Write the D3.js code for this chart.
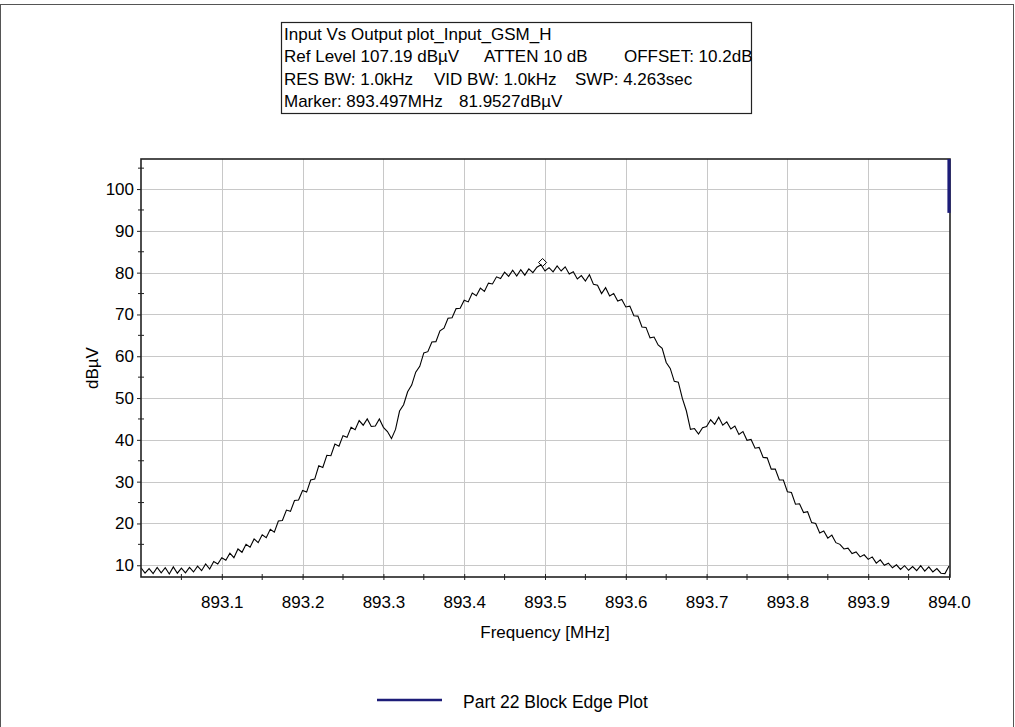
<!DOCTYPE html>
<html>
<head>
<meta charset="utf-8">
<script src="https://cdn.jsdelivr.net/npm/d3@7"></script>
<style>
	body { margin: 0; background: #fff; }
	text { font-family: "Liberation Sans", Arial, sans-serif; fill: #000; white-space: pre; }
</style>
</head>
<body>
<svg id="chart" width="1015" height="727"></svg>
<script>
// sweep settings (from the header box)
const startFreq = 893.0, stopFreq = 894.0, sweepStep = 0.005;
const refLevel = 107.19, bottomLevel = 7.19;

// measured trace, dBuV, one value per sweep step (893.000 ... 894.000)
const traceLevel = [
	9.4, 8.1, 9.2, 8.0, 9.5, 8.2, 9.4, 7.9, 9.6, 8.1, 9.3, 8.2, 9.5, 8.4, 9.8, 8.7, 10.3, 9.1, 10.9, 10.3,
	11.8, 11.2, 12.9, 11.8, 13.9, 13.1, 15.0, 14.3, 16.3, 15.4, 17.3, 16.6, 18.6, 17.9, 20.6, 20.7, 23.2, 22.9, 25.5, 25.6,
	27.9, 27.5, 30.4, 30.6, 33.8, 33.4, 36.3, 36.2, 39.0, 38.5, 41.0, 40.6, 43.0, 42.4, 44.6, 43.5, 45.0, 43.2, 43.3, 45.0,
	43.0, 42.0, 40.3, 42.5, 46.9, 48.4, 51.5, 53.1, 56.2, 57.6, 60.8, 61.1, 63.4, 63.5, 66.1, 66.7, 69.1, 69.2, 71.4, 71.5,
	73.4, 73.0, 75.1, 74.5, 76.3, 75.5, 77.5, 77.3, 79.0, 78.6, 80.1, 79.1, 80.6, 79.2, 80.7, 79.4, 80.9, 80.0, 81.3, 81.9,
	80.4, 81.2, 80.2, 81.6, 80.4, 81.4, 79.7, 80.2, 78.5, 79.3, 78.0, 79.5, 77.2, 77.0, 75.0, 76.4, 74.4, 75.0, 73.2, 73.6,
	71.8, 72.0, 69.7, 69.6, 67.0, 66.9, 64.4, 64.6, 62.7, 61.9, 58.5, 57.1, 54.0, 53.8, 49.9, 46.9, 42.5, 42.7, 41.4, 42.9,
	43.2, 44.8, 43.7, 45.4, 43.5, 44.3, 42.6, 43.3, 41.3, 42.0, 39.9, 40.1, 38.0, 38.2, 35.8, 35.7, 33.0, 33.0, 30.4, 30.4,
	27.6, 27.4, 24.6, 24.7, 22.6, 22.8, 20.2, 20.0, 17.7, 18.2, 16.5, 17.2, 15.4, 15.0, 13.9, 14.1, 12.8, 13.2, 12.0, 12.5,
	11.4, 12.0, 10.5, 11.3, 10.0, 10.5, 9.4, 10.1, 9.0, 9.9, 8.8, 9.7, 8.7, 9.9, 8.6, 9.6, 8.4, 9.2, 8.1, 8.0,
	9.8
];

// block edge limit line (Part 22)
const limitFreq = [894.0, 894.0];
const limitLevel = [107.19, 94.3];

const markerFreq = 893.497, markerLevel = 81.9527;

const xTicks = [893.1, 893.2, 893.3, 893.4, 893.5, 893.6, 893.7, 893.8, 893.9, 894.0];
const xMinorTicks = [893.05, 893.15, 893.25, 893.35, 893.45, 893.55, 893.65, 893.75, 893.85, 893.95];
const yTicks = [10, 20, 30, 40, 50, 60, 70, 80, 90, 100];
const yMinorTicks = [15, 25, 35, 45, 55, 65, 75, 85, 95, 105];

const infoLines = [
	[["Input Vs Output plot_Input_GSM_H", 284]],
	[["Ref Level 107.19 dBµV", 284], ["ATTEN 10 dB", 484], ["OFFSET: 10.2dB", 624]],
	[["RES BW: 1.0kHz", 284], ["VID BW: 1.0kHz", 434], ["SWP: 4.263sec", 575]],
	[["Marker: 893.497MHz", 284], ["81.9527dBµV", 459]]
];
const legendLabel = "Part 22 Block Edge Plot";

let svg = d3.select("#chart");

//outer frame of the window
svg.append("rect")
	.attr("x", 0.5).attr("y", 4.5)
	.attr("width", 1013).attr("height", 740)
	.style("fill", "none")
	.style("stroke", "#555")
	.style("stroke-width", 1);

let x = d3.scaleLinear()
	.domain([startFreq, stopFreq])
	.range([141, 949]);
let y = d3.scaleLinear()
	.domain([bottomLevel, refLevel])
	.range([577, 159]);

//grid
let grid = svg.append("g");
grid.selectAll(".vgrid")
	.data(xTicks.slice(0, -1))
	.enter()
	.append("line")
	.attr("x1", d => Math.round(x(d)) + 0.5).attr("x2", d => Math.round(x(d)) + 0.5)
	.attr("y1", 159).attr("y2", 577)
	.style("stroke", "#c8c8c8");
grid.selectAll(".hgrid")
	.data(yTicks)
	.enter()
	.append("line")
	.attr("x1", 141).attr("x2", 950)
	.attr("y1", d => Math.round(y(d)) + 0.5).attr("y2", d => Math.round(y(d)) + 0.5)
	.style("stroke", "#c8c8c8");

//trace
let freqs = d3.range(traceLevel.length).map(i => startFreq + i * sweepStep);
let line = d3.line()
	.x((d, i) => x(freqs[i]))
	.y(d => y(d));
svg.append("path")
	.datum(traceLevel)
	.attr("d", line)
	.style("fill", "none")
	.style("stroke", "#000")
	.style("stroke-width", 1.1);

//marker diamond
let mx = x(markerFreq), my = y(markerLevel) - 2;
svg.append("path")
	.attr("d", `M${mx},${my - 4}L${mx + 4},${my}L${mx},${my + 4}L${mx - 4},${my}Z`)
	.style("fill", "none")
	.style("stroke", "#000")
	.style("stroke-width", 1);

//plot frame
svg.append("rect")
	.attr("x", 141).attr("y", 159)
	.attr("width", 809).attr("height", 418)
	.style("fill", "none")
	.style("stroke", "#222")
	.style("stroke-width", 1.6);

//limit line
svg.append("path")
	.datum(limitLevel)
	.attr("d", d3.line().x((d, i) => x(limitFreq[i])).y(d => y(d)))
	.style("fill", "none")
	.style("stroke", "#1c1c78")
	.style("stroke-width", 3.2);

//axes
let xAxis = d3.axisBottom(x).tickValues(xTicks).tickSize(3).tickFormat(d3.format(".1f"));
let gx = svg.append("g").attr("transform", "translate(0,577)").call(xAxis);
gx.select(".domain").remove();
gx.selectAll(".tick line").attr("y1", -3).style("stroke", "#222");
gx.selectAll(".tick text").attr("y", 19).style("font-size", "17px").style("font-family", "Liberation Sans, Arial");
svg.append("g").selectAll("line")
	.data(xMinorTicks)
	.enter()
	.append("line")
	.attr("x1", d => x(d)).attr("x2", d => x(d))
	.attr("y1", 574).attr("y2", 580)
	.style("stroke", "#222");

let yAxis = d3.axisLeft(y).tickValues(yTicks).tickSize(4);
let gy = svg.append("g").attr("transform", "translate(141,0)").call(yAxis);
gy.select(".domain").remove();
gy.selectAll(".tick line").style("stroke", "#222");
gy.selectAll(".tick text").attr("x", -7).style("font-size", "17px").style("font-family", "Liberation Sans, Arial");
svg.append("g").selectAll("line")
	.data(yMinorTicks)
	.enter()
	.append("line")
	.attr("x1", 138).attr("x2", 144)
	.attr("y1", d => y(d)).attr("y2", d => y(d))
	.style("stroke", "#222");

//axis titles
svg.append("text")
	.text("Frequency [MHz]")
	.attr("x", 545).attr("y", 638)
	.style("text-anchor", "middle")
	.style("font-size", "17px");
svg.append("text")
	.text("dBµV")
	.attr("transform", "translate(98,368) rotate(-90)")
	.style("text-anchor", "middle")
	.style("font-size", "17px");

//info box
svg.append("rect")
	.attr("x", 281.5).attr("y", 22.5)
	.attr("width", 470).attr("height", 91)
	.style("fill", "#fff")
	.style("stroke", "#222")
	.style("stroke-width", 1.2);
infoLines.forEach(function(parts, i){
	parts.forEach(function(p){
		svg.append("text")
			.text(p[0])
			.attr("x", p[1])
			.attr("y", 40 + i * 22.3)
			.style("font-size", "17px");
	});
});

//legend
svg.append("line")
	.attr("x1", 377).attr("x2", 442)
	.attr("y1", 700).attr("y2", 700)
	.style("stroke", "#1c1c78")
	.style("stroke-width", 2.5);
svg.append("text")
	.text(legendLabel)
	.attr("x", 463).attr("y", 708)
	.style("font-size", "17.5px");
</script>
</body>
</html>
